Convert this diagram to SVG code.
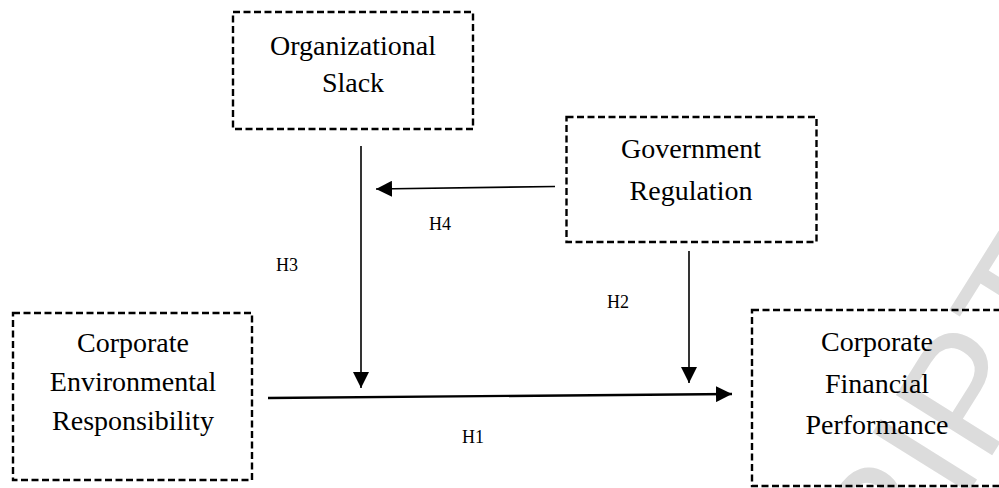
<svg xmlns="http://www.w3.org/2000/svg" width="999" height="488" viewBox="0 0 999 488">
  <style>
    .box { fill: none; stroke: #000; stroke-width: 2.4; stroke-dasharray: 7 3.5; }
    .lbl { font-family: "Liberation Serif", "Times New Roman", serif; font-size: 28px; fill: #000; text-anchor: middle; }
    .h { font-family: "Liberation Serif", "Times New Roman", serif; font-size: 18px; fill: #000; text-anchor: middle; }
    .ln { fill: none; stroke: #000; stroke-width: 1.6; marker-end: url(#arr); }
    .wm { font-family: "Liberation Sans", Arial, sans-serif; font-size: 165px; fill: #dcdcdc; }
  </style>
  <defs>
    <marker id="arr" viewBox="0 0 16 16" markerWidth="16" markerHeight="16" refX="16" refY="8" orient="auto" markerUnits="userSpaceOnUse">
      <path d="M0,0 L16,8 L0,16 Z" fill="#000"/>
    </marker>
  </defs>
  <rect width="999" height="488" fill="#fff"/>
  <g id="watermark">
    <text class="wm" x="897.7" y="606.6" transform="rotate(-58 897.7 606.6)">RIPT</text>
  </g>
  <g id="connectors">
    <path class="ln" d="M361,146 L361,388"/>
    <path class="ln" d="M555,186.5 L376,189"/>
    <path class="ln" d="M689,251 L689,383"/>
    <path class="ln" style="stroke-width:2.4" d="M268,398 L732,394"/>
  </g>
  <g id="labels">
    <text class="h" x="440" y="230">H4</text>
    <text class="h" x="287" y="271">H3</text>
    <text class="h" x="618" y="308">H2</text>
    <text class="h" x="473" y="443">H1</text>
  </g>
  <g id="organizational-slack">
    <rect class="box" x="233" y="12" width="240" height="117"/>
    <text class="lbl" x="353" y="55">Organizational</text>
    <text class="lbl" x="353" y="92">Slack</text>
  </g>
  <g id="government-regulation">
    <rect class="box" x="566.5" y="117" width="250" height="125"/>
    <text class="lbl" x="691" y="158">Government</text>
    <text class="lbl" x="691" y="200">Regulation</text>
  </g>
  <g id="corporate-environmental-responsibility">
    <rect class="box" x="13" y="313" width="239" height="167"/>
    <text class="lbl" x="133" y="352">Corporate</text>
    <text class="lbl" x="133" y="391">Environmental</text>
    <text class="lbl" x="133" y="430">Responsibility</text>
  </g>
  <g id="corporate-financial-performance">
    <rect class="box" x="752" y="310" width="251" height="176"/>
    <text class="lbl" x="877" y="351">Corporate</text>
    <text class="lbl" x="877" y="393">Financial</text>
    <text class="lbl" x="877" y="434">Performance</text>
  </g>
</svg>
